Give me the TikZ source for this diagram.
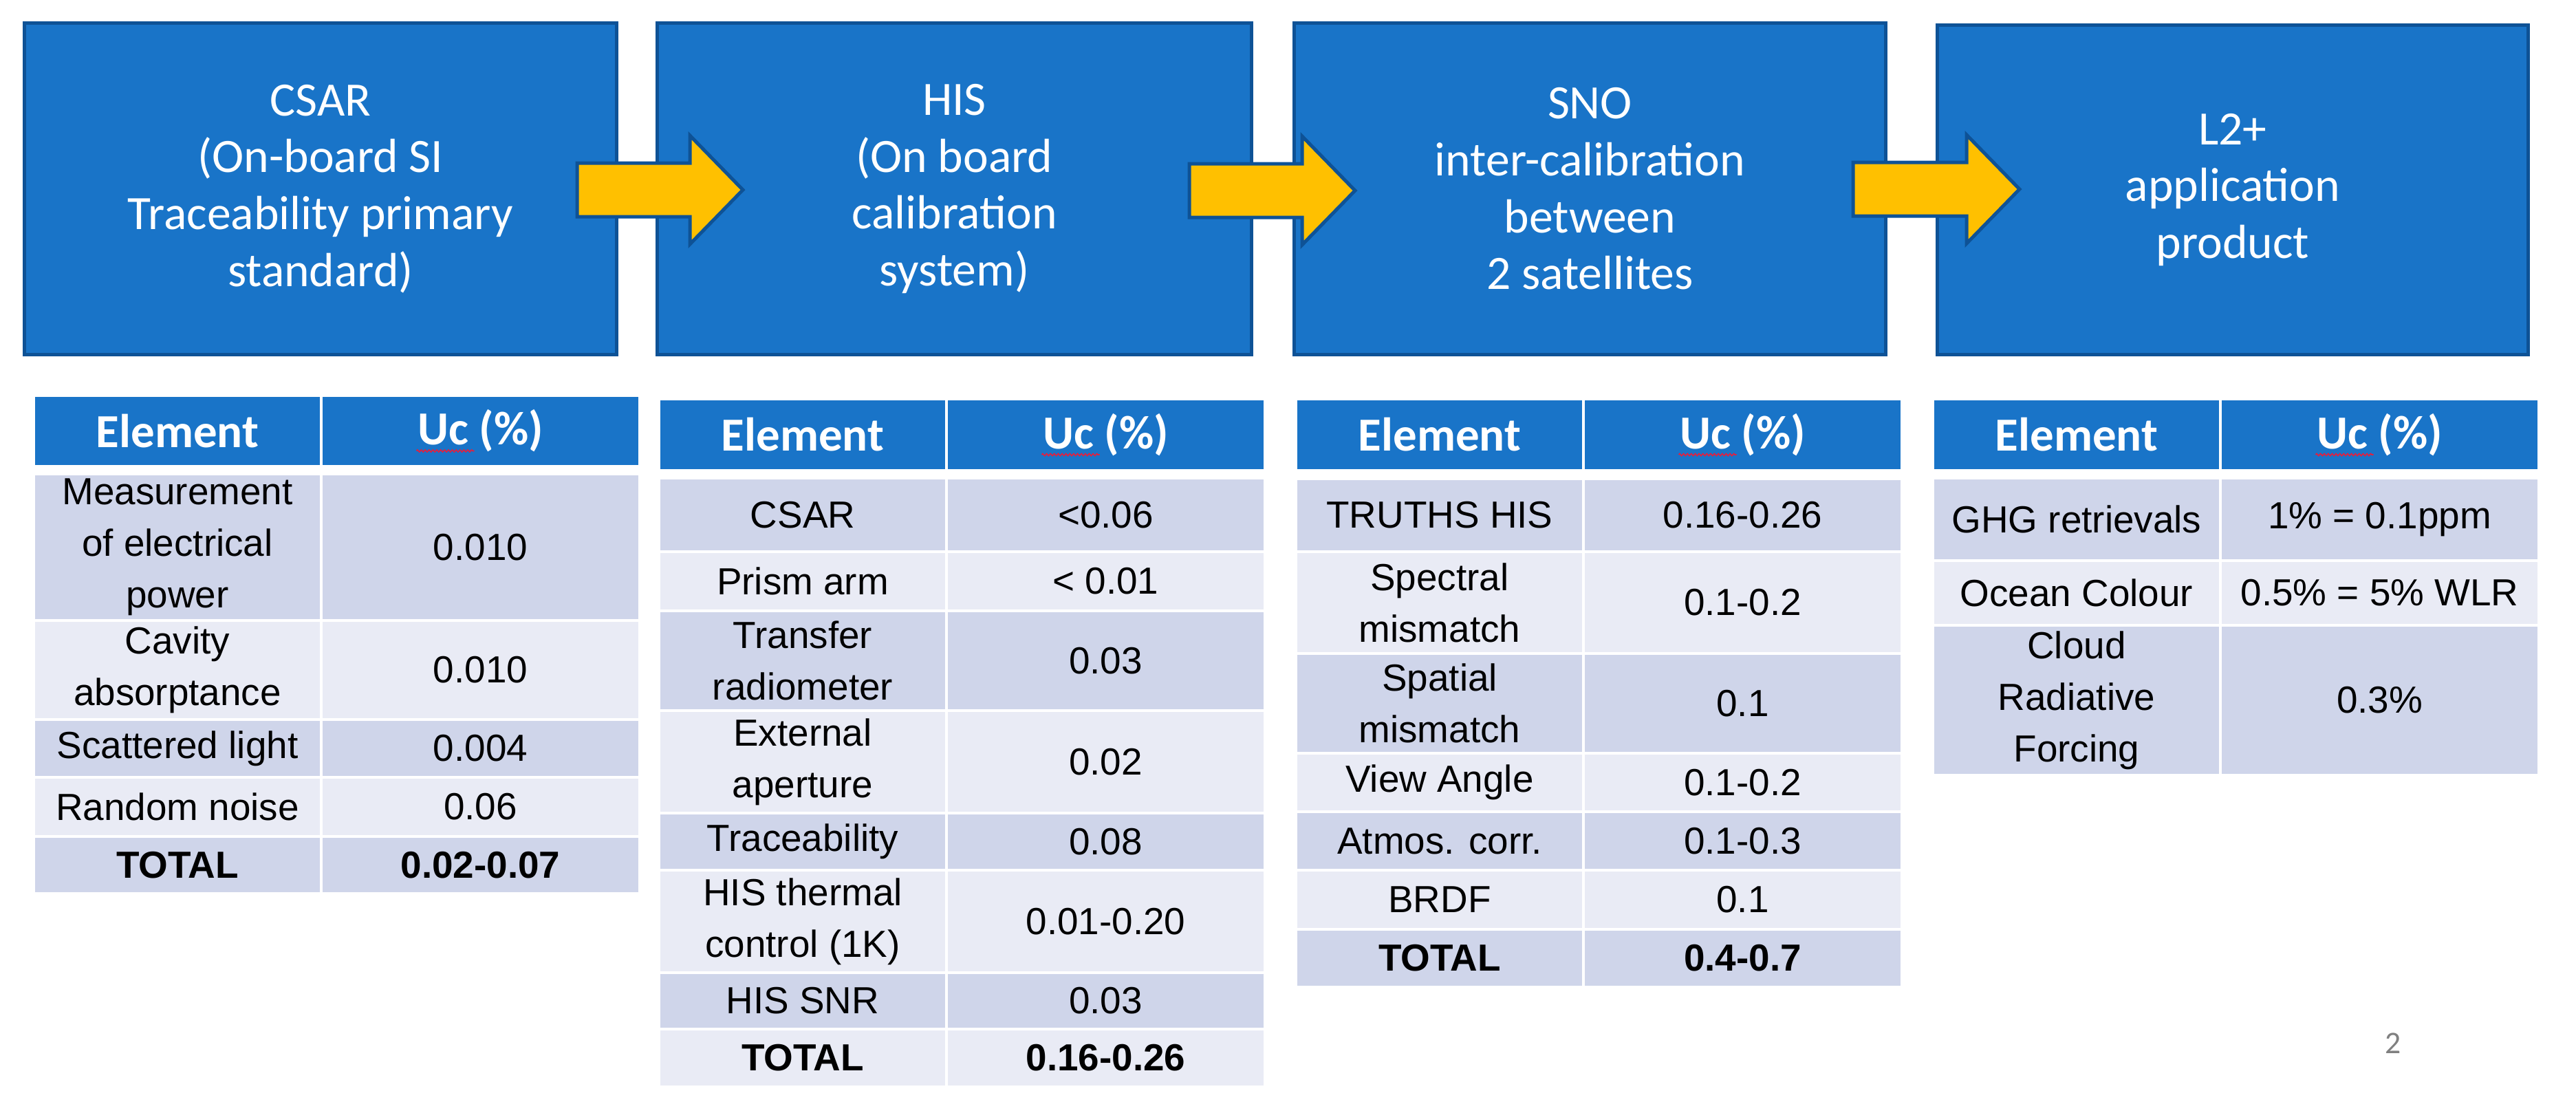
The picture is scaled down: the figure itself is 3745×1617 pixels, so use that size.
\documentclass[tikz,border=0pt]{standalone}
\usepackage{fontspec}
\setmainfont{Liberation Sans}
\newfontfamily\calibri{Carlito}
\usetikzlibrary{calc,decorations.pathmorphing}
\definecolor{boxblue}{RGB}{25,116,200}
\definecolor{boxedge}{RGB}{14,82,150}
\definecolor{arrowyellow}{RGB}{255,192,0}
\definecolor{banddark}{RGB}{207,213,234}
\definecolor{bandlight}{RGB}{233,235,245}
\definecolor{pagegray}{RGB}{128,128,128}
\definecolor{squigred}{RGB}{230,30,60}

\newcommand{\tcell}[7]{\node[cell, fill=#6, minimum width={(#4-#2)*0.28453pt}, minimum height={(#5-#3)*0.28453pt}] (#1) at ({(#2+#4)/2},{(#3+#5)/2}) {#7};}
\newcommand{\hcell}[6]{\node[headcell, minimum width={(#4-#2)*0.28453pt}, minimum height={(#5-#3)*0.28453pt}] (#1) at ({(#2+#4)/2},{(#3+#5)/2}) {#6};}
\newcommand{\squig}[1]{\draw[squiggle] ($(#1.center)+(-93,29)$) -- ($(#1.center)+(-9,29)$);}
\newcommand{\blockarrow}[2]{\draw[blockarrow] ($(#1)+(0,-39)$) -- ($(#2)+(-77,-39)$) -- ($(#2)+(-77,-79)$) -- (#2) -- ($(#2)+(-77,79)$) -- ($(#2)+(-77,39)$) -- ($(#1)+(0,39)$) -- cycle;}

\tikzset{
  bigbox/.style={draw=boxedge, fill=boxblue, line width=1.42pt, inner sep=0pt, outer sep=0pt,
    align=center, text=white, font=\calibri\fontsize{19.8}{23.5}\selectfont},
  blockarrow/.style={draw=boxedge, fill=arrowyellow, line width=1.42pt, line join=miter},
  cell/.style={draw=white, line width=1.15pt, inner sep=0pt, outer sep=0pt, align=center,
    text=black, font=\fontsize{15.6}{21.3}\selectfont},
  headcell/.style={draw=white, line width=1.15pt, fill=boxblue, inner sep=0pt, outer sep=0pt,
    align=center, text=white, font=\calibri\bfseries\fontsize{19.6}{23}\selectfont},
  squiggle/.style={draw=squigred, line width=0.45pt, decorate,
    decoration={zigzag, segment length=1.6pt, amplitude=0.45pt}},
  pagenum/.style={text=pagegray, font=\calibri\fontsize{13}{15}\selectfont, inner sep=0pt}
}

\begin{document}
\begin{tikzpicture}[x=0.01cm, y=-0.01cm]
\useasboundingbox (0,0) rectangle (3745,1617);

% top boxes
\node[bigbox, minimum width={860*0.28453pt}, minimum height={481*0.28453pt}] (b1) at (466,274.5)
  {CSAR\\(On-board SI\\Traceability primary\\standard)};
\node[bigbox, minimum width={863*0.28453pt}, minimum height={481*0.28453pt}] (b2) at (1387.5,274.5)
  {HIS\\(On board\\calibration\\system)};
\node[bigbox, minimum width={859*0.28453pt}, minimum height={481*0.28453pt}] (b3) at (2311.5,274.5)
  {SNO\\inter-calibration\\between\\2 satellites};
\node[bigbox, minimum width={858*0.28453pt}, minimum height={478*0.28453pt}] (b4) at (3246,276)
  {L2+\\application\\product};

% block arrows
\coordinate (a1s) at (839,276);  \coordinate (a1t) at (1080,276);
\coordinate (a2s) at (1729,277); \coordinate (a2t) at (1970,277);
\coordinate (a3s) at (2694,275); \coordinate (a3t) at (2936,275);
\blockarrow{a1s}{a1t}
\blockarrow{a2s}{a2t}
\blockarrow{a3s}{a3t}

% ---------- table 1 ----------
\hcell{t1ha}{49}{575}{467}{678}{Element}
\hcell{t1hb}{467}{575}{930}{678}{Uc (\%)}
\squig{t1hb}
\tcell{t1r1a}{49}{689}{467}{902}{banddark}{Measurement\\of electrical\\power}
\tcell{t1r1b}{467}{689}{930}{902}{banddark}{0.010}
\tcell{t1r2a}{49}{902}{467}{1046}{bandlight}{Cavity\\absorptance}
\tcell{t1r2b}{467}{902}{930}{1046}{bandlight}{0.010}
\tcell{t1r3a}{49}{1046}{467}{1130}{banddark}{Scattered light}
\tcell{t1r3b}{467}{1046}{930}{1130}{banddark}{0.004}
\tcell{t1r4a}{49}{1130}{467}{1216}{bandlight}{Random noise}
\tcell{t1r4b}{467}{1130}{930}{1216}{bandlight}{0.06}
\tcell{t1ta}{49}{1216}{467}{1299}{banddark}{\bfseries TOTAL}
\tcell{t1tb}{467}{1216}{930}{1299}{banddark}{\bfseries 0.02-0.07}

% ---------- table 2 ----------
\hcell{t2ha}{958}{580}{1376}{684}{Element}
\hcell{t2hb}{1376}{580}{1839}{684}{Uc (\%)}
\squig{t2hb}
\tcell{t2r1a}{958}{695}{1376}{802}{banddark}{CSAR}
\tcell{t2r1b}{1376}{695}{1839}{802}{banddark}{<0.06}
\tcell{t2r2a}{958}{802}{1376}{888}{bandlight}{Prism arm}
\tcell{t2r2b}{1376}{802}{1839}{888}{bandlight}{< 0.01}
\tcell{t2r3a}{958}{888}{1376}{1033}{banddark}{Transfer\\radiometer}
\tcell{t2r3b}{1376}{888}{1839}{1033}{banddark}{0.03}
\tcell{t2r4a}{958}{1033}{1376}{1182}{bandlight}{External\\aperture}
\tcell{t2r4b}{1376}{1033}{1839}{1182}{bandlight}{0.02}
\tcell{t2r5a}{958}{1182}{1376}{1265}{banddark}{Traceability}
\tcell{t2r5b}{1376}{1182}{1839}{1265}{banddark}{0.08}
\tcell{t2r6a}{958}{1265}{1376}{1414}{bandlight}{HIS thermal\\control (1K)}
\tcell{t2r6b}{1376}{1265}{1839}{1414}{bandlight}{0.01-0.20}
\tcell{t2r7a}{958}{1414}{1376}{1496}{banddark}{HIS SNR}
\tcell{t2r7b}{1376}{1414}{1839}{1496}{banddark}{0.03}
\tcell{t2ta}{958}{1496}{1376}{1580}{bandlight}{\bfseries TOTAL}
\tcell{t2tb}{1376}{1496}{1839}{1580}{bandlight}{\bfseries 0.16-0.26}

% ---------- table 3 ----------
\hcell{t3ha}{1884}{580}{2302}{684}{Element}
\hcell{t3hb}{2302}{580}{2765}{684}{Uc (\%)}
\squig{t3hb}
\tcell{t3r1a}{1884}{696}{2302}{802}{banddark}{TRUTHS HIS}
\tcell{t3r1b}{2302}{696}{2765}{802}{banddark}{0.16-0.26}
\tcell{t3r2a}{1884}{802}{2302}{950}{bandlight}{Spectral\\mismatch}
\tcell{t3r2b}{2302}{802}{2765}{950}{bandlight}{0.1-0.2}
\tcell{t3r3a}{1884}{950}{2302}{1095}{banddark}{Spatial\\mismatch}
\tcell{t3r3b}{2302}{950}{2765}{1095}{banddark}{0.1}
\tcell{t3r4a}{1884}{1095}{2302}{1180}{bandlight}{View Angle}
\tcell{t3r4b}{2302}{1095}{2765}{1180}{bandlight}{0.1-0.2}
\tcell{t3r5a}{1884}{1180}{2302}{1265}{banddark}{Atmos. corr.}
\tcell{t3r5b}{2302}{1180}{2765}{1265}{banddark}{0.1-0.3}
\tcell{t3r6a}{1884}{1265}{2302}{1351}{bandlight}{BRDF}
\tcell{t3r6b}{2302}{1265}{2765}{1351}{bandlight}{0.1}
\tcell{t3ta}{1884}{1351}{2302}{1435}{banddark}{\bfseries TOTAL}
\tcell{t3tb}{2302}{1351}{2765}{1435}{banddark}{\bfseries 0.4-0.7}

% ---------- table 4 ----------
\hcell{t4ha}{2810}{580}{3228}{684}{Element}
\hcell{t4hb}{3228}{580}{3691}{684}{Uc (\%)}
\squig{t4hb}
\tcell{t4r1a}{2810}{695}{3228}{815}{banddark}{GHG retrievals}
\tcell{t4r1b}{3228}{695}{3691}{815}{banddark}{1\% = 0.1ppm}
\tcell{t4r2a}{2810}{815}{3228}{909}{bandlight}{Ocean Colour}
\tcell{t4r2b}{3228}{815}{3691}{909}{bandlight}{0.5\% = 5\% WLR}
\tcell{t4r3a}{2810}{909}{3228}{1127}{banddark}{Cloud\\Radiative\\Forcing}
\tcell{t4r3b}{3228}{909}{3691}{1127}{banddark}{0.3\%}

% page number
\node[pagenum] (pg) at (3479,1517) {2};
\end{tikzpicture}
\end{document}
